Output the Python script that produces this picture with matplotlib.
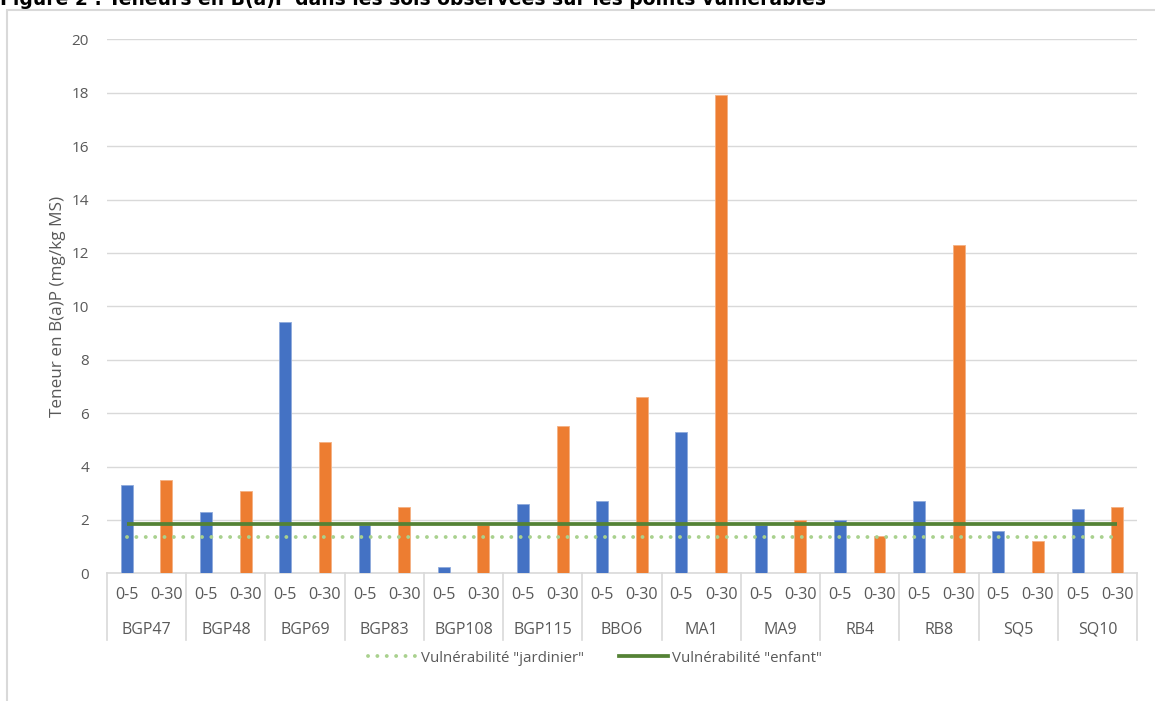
import matplotlib.pyplot as plt
from matplotlib.patches import Rectangle
from matplotlib.lines import Line2D
import matplotlib.transforms as mtransforms

plt.rcParams['font.family'] = ['Open Sans', 'DejaVu Sans']

# sampling points and depths
points = ["BGP47", "BGP48", "BGP69", "BGP83", "BGP108", "BGP115", "BBO6",
          "MA1", "MA9", "RB4", "RB8", "SQ5", "SQ10"]
depths = ["0-5", "0-30"]

# B(a)P content (mg/kg MS)
val_0_5 = [3.3, 2.3, 9.4, 1.8, 0.25, 2.6, 2.7, 5.3, 1.8, 2.0, 2.7, 1.6, 2.4]
val_0_30 = [3.5, 3.1, 4.9, 2.5, 1.8, 5.5, 6.6, 17.9, 2.0, 1.4, 12.3, 1.2, 2.5]

# vulnerability thresholds
seuil_jardinier = 1.37
seuil_enfant = 1.85

yticks = list(range(0, 21, 2))

BLUE = "#4472C4"
ORANGE = "#ED7D31"
DARK_GREEN = "#548235"
LIGHT_GREEN = "#A9D18E"
GRID = "#D9D9D9"
TXT = "#595959"

W, H = 1155, 701
fig = plt.figure(figsize=(W / 100, H / 100), dpi=100)

# chart frame
fig.patches.append(Rectangle((7 / W, -0.05), 1.1, 1 - 10 / H + 0.05,
                             transform=fig.transFigure, fill=False,
                             edgecolor=GRID, linewidth=1.5))

fig.text(0.0, 1 - 5 / H,
         "Figure 2 : Teneurs en B(a)P dans les sols observées sur les points vulnérables",
         fontsize=13.5, fontweight="bold", family="DejaVu Sans",
         va="baseline", ha="left", color="black")

left, right = 107 / W, 1137 / W
top, bottom = 1 - 39.3 / H, 1 - 573.3 / H
ax = fig.add_axes([left, bottom, right - left, top - bottom])

n = len(points)
x_blue = [2 * i for i in range(n)]
x_orange = [2 * i + 1 for i in range(n)]
bw = 0.3
ax.bar(x_blue, val_0_5, width=bw, color=BLUE, edgecolor="#8FAADC",
       linewidth=0.6, zorder=3)
ax.bar(x_orange, val_0_30, width=bw, color=ORANGE, edgecolor="#F4B183",
       linewidth=0.6, zorder=3)

xs = list(range(2 * n))
ax.plot([xs[0], xs[-1]], [seuil_enfant, seuil_enfant], color=DARK_GREEN,
        linewidth=2.7, solid_capstyle="butt", zorder=4)
ax.plot([xs[0], xs[-1]], [seuil_jardinier, seuil_jardinier], color=LIGHT_GREEN,
        linewidth=2.8, linestyle=(0, (0.01, 2.4)), dash_capstyle="round", zorder=4)

ax.set_xlim(-0.5, 2 * n - 0.5)
ax.set_ylim(0, 20)
ax.set_yticks(yticks)
ax.set_yticklabels([str(t) for t in yticks], fontsize=11, color=TXT)
ax.tick_params(axis="y", length=0, pad=13)
ax.set_xticks([])
ax.grid(axis="y", color=GRID, linewidth=1, zorder=0)
for s in ["top", "right", "left"]:
    ax.spines[s].set_visible(False)
ax.spines["bottom"].set_color(GRID)
ax.spines["bottom"].set_linewidth(1.2)
ax.set_ylabel("Teneur en B(a)P (mg/kg MS)", fontsize=12.3, color=TXT, labelpad=4)

# two-level category axis
trans = mtransforms.blended_transform_factory(ax.transData, fig.transFigure)
y_axis = 1 - 573.3 / H
y_sub = 1 - 595 / H
y_grp = 1 - 630 / H
y_end = 1 - 640 / H
for i, p in enumerate(points):
    for j, d in enumerate(depths):
        ax.text(2 * i + j, y_sub, d, transform=trans, ha="center", va="center",
                fontsize=11.6, color=TXT, clip_on=False)
    ax.text(2 * i + 0.5, y_grp, p, transform=trans, ha="center", va="center",
            fontsize=11.5, color=TXT, clip_on=False)
for k in range(n + 1):
    xb = 2 * k - 0.5
    ax.add_line(Line2D([xb, xb], [y_axis, y_end], transform=trans,
                       color=GRID, linewidth=1.2, clip_on=False))

handles = [
    Line2D([], [], color=LIGHT_GREEN, linewidth=2.8,
           linestyle=(0, (0.01, 2.4)), dash_capstyle="round"),
    Line2D([], [], color=DARK_GREEN, linewidth=2.7),
]
fig.legend(handles, ['Vulnérabilité "jardinier"', 'Vulnérabilité "enfant"'],
           loc="center", bbox_to_anchor=(595 / W, 1 - 658 / H), ncol=2,
           frameon=False, fontsize=10.8, handlelength=3.3, handletextpad=0.25,
           columnspacing=2.3, labelcolor=TXT)

fig.savefig("out.png", dpi=100)
